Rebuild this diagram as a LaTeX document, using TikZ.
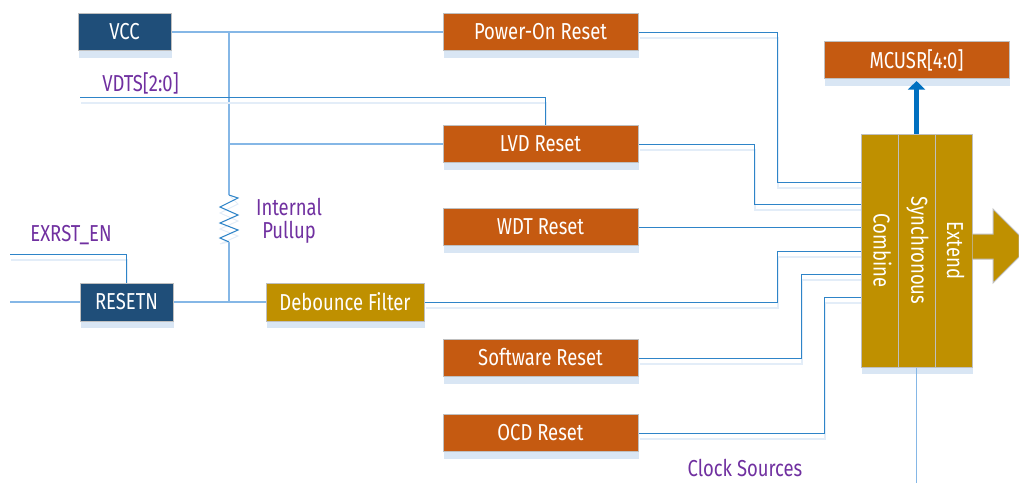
\documentclass[tikz,border=0pt]{standalone}
\usepackage{fontspec}
\setmainfont[FakeStretch=0.8]{Fira Sans}
\usetikzlibrary{shadows,arrows.meta,backgrounds}
\definecolor{navy}{HTML}{1F4E79}
\definecolor{rust}{HTML}{C55A11}
\definecolor{gold}{HTML}{BF9000}
\definecolor{shad}{HTML}{D9E6F4}
\definecolor{shline}{HTML}{E3EDF8}
\definecolor{edge}{HTML}{BFBFBF}
\definecolor{wire}{HTML}{2E84C8}
\definecolor{palewire}{HTML}{85B7E6}
\definecolor{thick}{HTML}{0070C0}
\definecolor{lab}{HTML}{7030A0}
\tikzset{
  x=0.75pt,y=-0.75pt,
  box/.style={draw=edge,line width=0.75pt,text=white,font=\fontsize{17.3}{20}\selectfont,inner sep=0pt,
    general shadow={fill=shad,shadow xshift=0.75pt,shadow yshift=-5.25pt}},
  pin/.style={box,fill=navy,minimum width=69.75pt,minimum height=27.75pt},
  rst/.style={box,fill=rust,minimum width=146.25pt,minimum height=27.75pt},
  cell/.style={box,fill=gold,minimum width=27.75pt,minimum height=174.75pt},
  lbl/.style={text=lab,font=\fontsize{17.3}{17.25}\selectfont,inner sep=0pt,align=center},
  wirepale/.style={draw=palewire,line width=1pt},
  wirepin/.style={draw=palewire,line width=0.8pt},
  wireshad/.style={draw=wire,line width=0.75pt,
    preaction={draw=shline,line width=0.9pt,transform canvas={xshift=0.75pt,yshift=-4.5pt}}},
}
\begin{document}
\begin{tikzpicture}
\useasboundingbox (0,0) rectangle (1019,483);
% nodes
\node[pin] (vcc) at (124.5,32) {\raisebox{1pt}{VCC}};
\node[pin,minimum height=28.5pt] (resetn) at (126.5,302) {\raisebox{1pt}{RESETN}};
\node[box,fill=gold,minimum width=118.5pt,minimum height=28.5pt] (deb) at (345,302) {\raisebox{1pt}{Debounce Filter}};
\node[rst] (por) at (540.5,32) {\raisebox{1pt}{Power-On Reset}};
\node[rst] (lvd) at (540.5,144) {\raisebox{1pt}{LVD Reset}};
\node[rst] (wdt) at (540.5,227) {\raisebox{1pt}{WDT Reset}};
\node[rst] (sw) at (540.5,358) {\raisebox{1pt}{Software Reset}};
\node[rst] (ocd) at (540.5,433) {\raisebox{1pt}{OCD Reset}};
\node[rst,minimum width=138.75pt] (mcusr) at (916.5,60) {\raisebox{1pt}{MCUSR[4:0]}};
\node[cell] (comb) at (879.5,250.5) {\hspace{4.5pt}\rotatebox{-90}{Combine}};
\node[cell] (sync) at (916.5,250.5) {\hspace{1.5pt}\rotatebox{-90}{Synchronous}};
\node[cell] (ext) at (953.5,250.5) {\hspace{3pt}\rotatebox{-90}{Extend}};
\node[lbl] (tvdts) at (140.5,83.5) {VDTS[2:0]};
\node[lbl] (texr) at (71,235) {EXRST\_EN};
\node[lbl] (tpull) at (289,220.5) {Internal\\Pullup};
\node[lbl] (tclk) at (745,468) {Clock Sources};
% free ends and bends
\coordinate (vtap) at (229,32);
\coordinate (ltap) at (229,144);
\coordinate (rtop) at (229,195);
\coordinate (rbot) at (229,242);
\coordinate (rtap) at (229,302);
\coordinate (vd0) at (80,97);
\coordinate (vd1) at (545,125);
\coordinate (ex0) at (10,254);
\coordinate (rs0) at (10,302);
\coordinate (a1) at (777,182);  \coordinate (a2) at (861,182);
\coordinate (b1) at (754,204);  \coordinate (b2) at (861,204);
\coordinate (c2) at (861,227);
\coordinate (d1) at (777,251);  \coordinate (d2) at (861,251);
\coordinate (e1) at (801,274);  \coordinate (e2) at (861,274);
\coordinate (f1) at (824,297);  \coordinate (f2) at (861,297);
\coordinate (clk) at (917,483);
% wires
\begin{scope}[on background layer]
\draw[wirepale] (vcc.east) -- (por.west);
\draw[wirepale] (vtap) -- (rtop);
\draw[wirepale] (rbot) -- (rtap);
\draw[wirepale] (ltap) -- (lvd.west);
\draw[wirepin] (rs0) -- (resetn.west);
\draw[wirepin] (resetn.east) -- (deb.west);
\draw[wireshad] (vd0) -| (vd1);
\draw[wireshad] (ex0) -| (resetn.north);
\draw[wireshad] (por.east) -| (a1) -- (a2);
\draw[wireshad] (lvd.east) -| (b1) -- (b2);
\draw[draw=wire,line width=0.75pt] (wdt.east) -- (c2);
\draw[wireshad] (deb.east) -| (d1) -- (d2);
\draw[wireshad] (sw.east) -| (e1) -- (e2);
\draw[wireshad] (ocd.east) -| (f1) -- (f2);
\draw[draw=shline,line width=0.75pt,yshift=-4.5pt]
  (rtop) -- (238,198) -- (220,207) -- (238,215) -- (220,223) -- (238,230) -- (220,238) -- (rbot);
\draw[draw=wire,line width=0.8pt]
  (rtop) -- (238,198) -- (220,207) -- (238,215) -- (220,223) -- (238,230) -- (220,238) -- (rbot);
\end{scope}
\draw[wirepin,line width=1pt] (sync.south) -- (sync.south |- clk);
\draw[draw=thick,line width=4.1pt,shorten >=1.5pt,-{Triangle[width=12.75pt,length=6.5pt]}] (sync.north) -- (mcusr.south);
% output arrow, cut by the picture edge
\path[fill=gold,draw=edge,line width=0.75pt] (ext.east |- 0,234) -- (993,234) -- (993,209) -- (1019,235) -- (1019,257) -- (993,283) -- (993,259) -- (ext.east |- 0,259);
\end{tikzpicture}
\end{document}
